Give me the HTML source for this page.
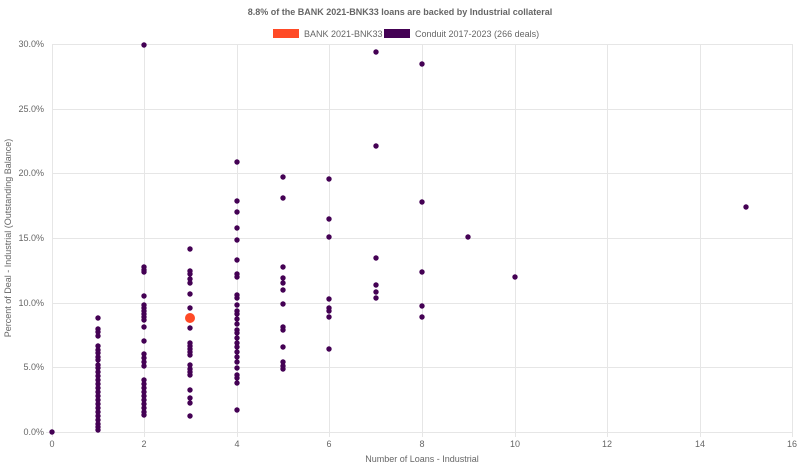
<!DOCTYPE html><html><head><style>body{margin:0;background:#fff;font-family:"Liberation Sans",sans-serif}</style></head><body>
<svg width="800" height="467" xmlns="http://www.w3.org/2000/svg" font-family="Liberation Sans, sans-serif">
<text x="400" y="15" text-anchor="middle" font-size="9" font-weight="bold" fill="#666">8.8% of the BANK 2021-BNK33 loans are backed by Industrial collateral</text>
<rect x="273" y="29" width="26" height="9" fill="#ff4a26"/><text x="304" y="37" font-size="9" fill="#666">BANK 2021-BNK33</text>
<rect x="384" y="29" width="26" height="9" fill="#440154"/><text x="415" y="37" font-size="9" fill="#666">Conduit 2017-2023 (266 deals)</text>
<g stroke="#e6e6e6" stroke-width="1">
<line x1="52" y1="44.5" x2="793" y2="44.5"/><line x1="52" y1="109.5" x2="793" y2="109.5"/><line x1="52" y1="173.5" x2="793" y2="173.5"/><line x1="52" y1="238.5" x2="793" y2="238.5"/><line x1="52" y1="303.5" x2="793" y2="303.5"/><line x1="52" y1="367.5" x2="793" y2="367.5"/><line x1="46" y1="432.5" x2="793" y2="432.5"/>
<line x1="52.5" y1="44" x2="52.5" y2="437"/><line x1="144.5" y1="44" x2="144.5" y2="437"/><line x1="237.5" y1="44" x2="237.5" y2="437"/><line x1="329.5" y1="44" x2="329.5" y2="437"/><line x1="422.5" y1="44" x2="422.5" y2="437"/><line x1="515.5" y1="44" x2="515.5" y2="437"/><line x1="607.5" y1="44" x2="607.5" y2="437"/><line x1="700.5" y1="44" x2="700.5" y2="437"/><line x1="792.5" y1="44" x2="792.5" y2="437"/>
</g>
<g font-size="9" fill="#666" text-anchor="end">
<text x="44" y="47">30.0%</text><text x="44" y="112">25.0%</text><text x="44" y="176">20.0%</text><text x="44" y="241">15.0%</text><text x="44" y="306">10.0%</text><text x="44" y="370">5.0%</text><text x="44" y="435">0.0%</text>
</g>
<g font-size="9" fill="#666" text-anchor="middle">
<text x="52" y="447">0</text><text x="144" y="447">2</text><text x="237" y="447">4</text><text x="329" y="447">6</text><text x="422" y="447">8</text><text x="515" y="447">10</text><text x="607" y="447">12</text><text x="700" y="447">14</text><text x="792" y="447">16</text>
<text x="422" y="462">Number of Loans - Industrial</text>
<text transform="translate(11,238) rotate(-90)">Percent of Deal - Industrial (Outstanding Balance)</text>
</g>
<g id="d" fill="#440154"></g>
<circle cx="190" cy="318" r="5" fill="#ff4a26"/>
</svg>
<script>
var cols={52:[432],98:[318,329,332,336,346,350,353,357,360,365,368,372,376,380,384,388,392,396,400,404,408,412,416,420,424,427,430],
144:[45,267,270,272,296,305,308,311,314,317,320,327,341,354,358,362,366,380,384,388,392,396,400,404,408,412,415],
190:[249,271,274,279,283,294,308,328,343,346,349,352,355,365,369,372,375,390,398,403,416],
237:[162,201,212,228,240,260,274,277,295,298,305,311,314,319,324,330,333,338,343,347,352,357,362,368,375,378,383,410],
283:[177,198,267,278,283,290,304,327,330,347,362,366,369],329:[179,219,237,299,308,311,317,349],376:[52,146,258,285,292,298],422:[64,202,272,306,317],468:[237],515:[277],746:[207]};
var g=document.getElementById('d'),s='';for(var x in cols)cols[x].forEach(function(y){s+='<circle cx="'+x+'" cy="'+y+'" r="2.7"/>';});g.innerHTML=s;
</script>
</body></html>
